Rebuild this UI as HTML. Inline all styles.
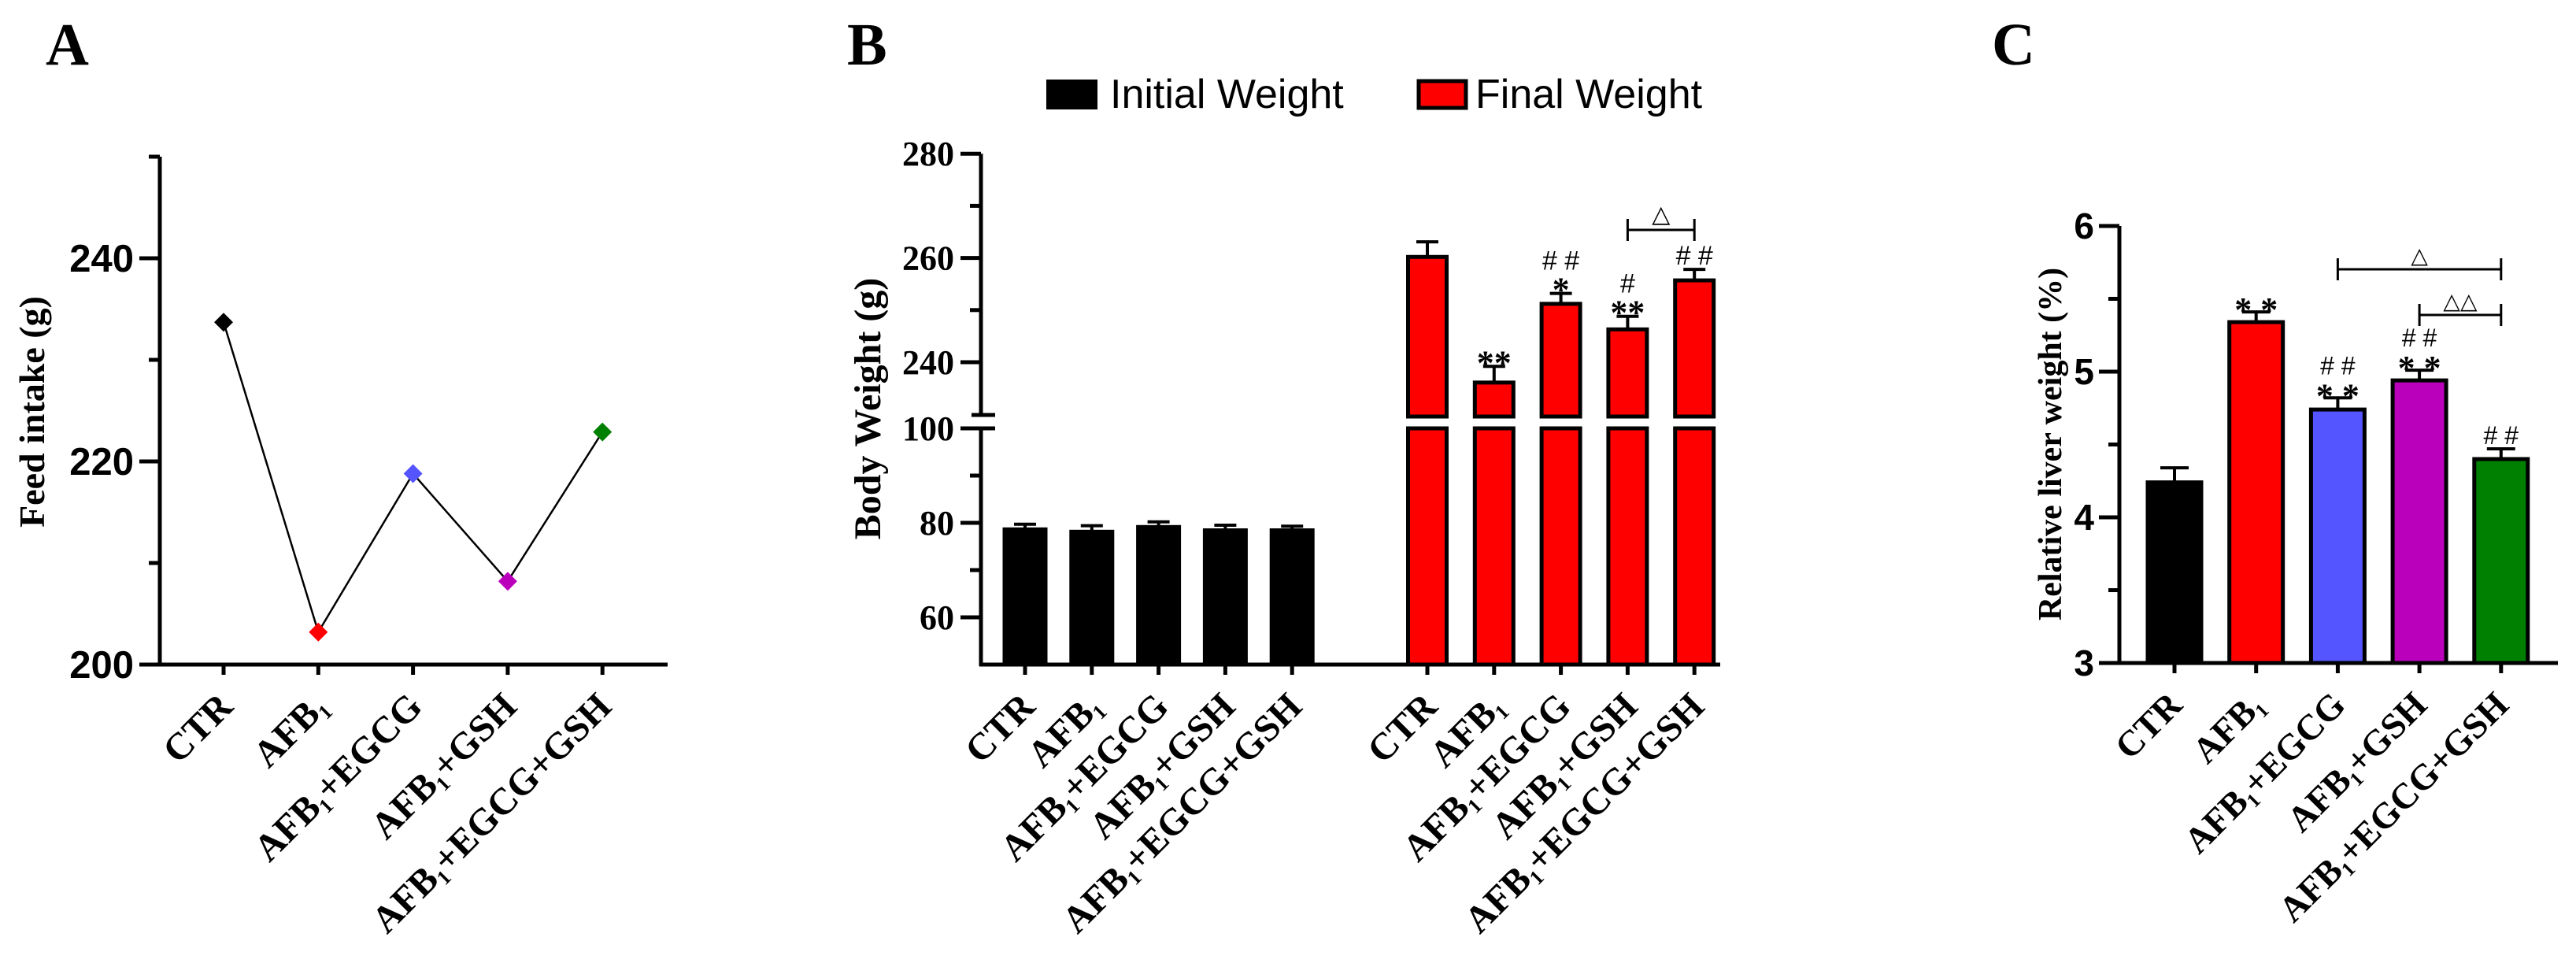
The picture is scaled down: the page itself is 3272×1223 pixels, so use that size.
<!DOCTYPE html>
<html><head><meta charset="utf-8"><style>
html,body{margin:0;padding:0;background:#fff;}
svg{display:block;}
.serif{font-family:"Liberation Serif",serif;font-weight:bold;}
.sans{font-family:"Liberation Sans",sans-serif;}
</style></head>
<body>
<svg id="fig" width="3272" height="1223" viewBox="0 0 3272 1223" xmlns="http://www.w3.org/2000/svg">
<rect width="3272" height="1223" fill="#fff"/>
<text x="58" y="82" class="serif" font-size="76">A</text>
<text x="1076" y="82" class="serif" font-size="76">B</text>
<text x="2530" y="82" class="serif" font-size="76">C</text>
<text transform="translate(56,523) rotate(-90)" text-anchor="middle" class="serif" font-size="46">Feed intake (g)</text>
<text transform="translate(1118,519) rotate(-90)" text-anchor="middle" class="serif" font-size="48">Body Weight (g)</text>
<text transform="translate(2618,564) rotate(-90)" text-anchor="middle" class="serif" font-size="42">Relative liver weight (%)</text>
<g>
<rect x="1329" y="101" width="65" height="38" fill="#000"/>
<text x="1410" y="137" class="sans" font-size="52">Initial Weight</text>
<rect x="1802" y="103" width="60" height="34" fill="#f00" stroke="#000" stroke-width="5"/>
<text x="1874" y="137" class="sans" font-size="52">Final Weight</text>
</g>
<g id="gA"></g><g id="gB"></g><g id="gC"></g>
</svg>
<script>
// ---- data ----
const groups = ["CTR","AFB","AFB+EGCG","AFB+GSH","AFB+EGCG+GSH"];
const feedIntake = [233.7, 203.2, 218.8, 208.2, 222.9];
const feedColors = ["#000","#f00","#5555ff","#bb00bb","#008000"];
const feedTicks = [200, 220, 240];
const feedMinor = [210, 230, 250];
const initialWeight = [78.7, 78.2, 79.2, 78.5, 78.5];
const initialErr = [1.0, 1.2, 1.0, 1.0, 0.8];
const finalWeight = [260.5, 236.4, 251.5, 246.6, 256.0];
const finalErr = [2.6, 2.8, 1.7, 2.2, 1.8];
const bLowerTicks = [60, 80, 100];
const bLowerMinor = [70, 90];
const bUpperTicks = [240, 260, 280];
const bUpperMinor = [250, 270];
const finalMarks = [["",""],["**",""],["*","# #"],["**","#"],["","# #"]];
const liverWeight = [4.24, 5.34, 4.74, 4.94, 4.40];
const liverErr = [0.10, 0.07, 0.08, 0.07, 0.07];
const liverColors = ["#000","#f00","#5555ff","#bb00bb","#008000"];
const liverTicks = [3, 4, 5, 6];
const liverMinor = [3.5, 4.5, 5.5];
const liverMarks = [["",""],["* *",""],["* *","# #"],["* *","# #"],["","# #"]];

const NS = "http://www.w3.org/2000/svg";
function mk(parent, tag, attrs, txt){
  const e = document.createElementNS(NS, tag);
  for (const k in attrs) e.setAttribute(k, attrs[k]);
  if (txt !== undefined) e.textContent = txt;
  parent.appendChild(e); return e;
}
function label(parent, x, y, name, size){
  const t = mk(parent, "text", {transform:`translate(${x},${y}) rotate(-45)`, "text-anchor":"end", "font-size":size, class:"serif"});
  
  
  if (name === "CTR") { t.textContent = "CTR"; return t; }
  mk(t, "tspan", {}, "AFB");
  mk(t, "tspan", {"font-size": size*0.55, dy: 8}, "1");
  const rest = name.slice(3);
  if (rest) mk(t, "tspan", {dy: -8}, rest);
  return t;
}
const AX = "#000";

// ---- Panel A ----
(function(){
  const g = document.getElementById("gA");
  const y = v => 844 - (v - 200) * 12.9;
  const x = i => 284 + i * 120.3;
  const ya = mk(g, "line", {x1:203, y1:y(250), x2:203, y2:846, stroke:AX, "stroke-width":5});
  
  
  const xa = mk(g, "line", {x1:177, y1:844, x2:848, y2:844, stroke:AX, "stroke-width":5});
  
  
  feedTicks.forEach(v => {
    const t = mk(g, "line", {x1:177, y1:y(v), x2:203, y2:y(v), stroke:AX, "stroke-width":5});
    
    
    const l = mk(g, "text", {x:170, y:y(v)+17, "text-anchor":"end", "font-size":49, class:"sans", "font-weight":"bold"}, String(v));
    
    
  });
  feedMinor.forEach(v => {
    const t = mk(g, "line", {x1:189, y1:y(v), x2:203, y2:y(v), stroke:AX, "stroke-width":5});
    
    
  });
  const pts = feedIntake.map((v,i) => x(i)+","+y(v)).join(" ");
  const pl = mk(g, "polyline", {points:pts, fill:"none", stroke:"#000", "stroke-width":2.5});
  
  
  groups.forEach((n,i) => {
    const t = mk(g, "line", {x1:x(i), y1:844, x2:x(i), y2:857, stroke:AX, "stroke-width":5});
    
    
    const cx = x(i), cy = y(feedIntake[i]), r = 12;
    const d = mk(g, "polygon", {points:`${cx},${cy-r} ${cx+r},${cy} ${cx},${cy+r} ${cx-r},${cy}`, fill:feedColors[i]});
    
    
    label(g, x(i)+14, 900, n, 48);
  });
})();

// ---- Panel B ----
(function(){
  const g = document.getElementById("gB");
  const yL = v => 844 - (v - 50) * 6.0;
  const yU = v => 460 - (v - 240) * 6.62;
  const breakLow = yL(100), breakHigh = 527;
  const xI = i => 1302 + i * 84.8;
  const xF = i => 1813 + i * 84.8;
  const bw = 53;
  const a1 = mk(g, "line", {x1:1246, y1:breakLow, x2:1246, y2:846, stroke:AX, "stroke-width":5});
  
  
  const a2 = mk(g, "line", {x1:1246, y1:yU(280), x2:1246, y2:breakHigh, stroke:AX, "stroke-width":5});
  
  
  [breakLow, breakHigh].forEach(yy => {
    const b = mk(g, "line", {x1:1234, y1:yy, x2:1264, y2:yy, stroke:AX, "stroke-width":5});
    
    
  });
  const xa = mk(g, "line", {x1:1244, y1:844, x2:2185, y2:844, stroke:AX, "stroke-width":5});
  
  
  bLowerTicks.forEach(v => {
    const t = mk(g, "line", {x1:1220, y1:yL(v), x2:1246, y2:yL(v), stroke:AX, "stroke-width":5});
    
    
    const l = mk(g, "text", {x:1212, y:yL(v)+15, "text-anchor":"end", "font-size":44, class:"serif"}, String(v));
    
    
  });
  bUpperTicks.forEach(v => {
    const t = mk(g, "line", {x1:1220, y1:yU(v), x2:1246, y2:yU(v), stroke:AX, "stroke-width":5});
    
    
    const l = mk(g, "text", {x:1212, y:yU(v)+15, "text-anchor":"end", "font-size":44, class:"serif"}, String(v));
    
    
  });
  bLowerMinor.forEach(v => {
    const t = mk(g, "line", {x1:1232, y1:yL(v), x2:1246, y2:yL(v), stroke:AX, "stroke-width":5});
    
    
  });
  bUpperMinor.forEach(v => {
    const t = mk(g, "line", {x1:1232, y1:yU(v), x2:1246, y2:yU(v), stroke:AX, "stroke-width":5});
    
    
  });
  groups.forEach((n,i) => {
    const cx = xI(i), top = yL(initialWeight[i]);
    const eb = mk(g, "path", {d:`M${cx},${top} V${yL(initialWeight[i]+initialErr[i])} M${cx-14},${yL(initialWeight[i]+initialErr[i])} H${cx+14}`, stroke:"#000", "stroke-width":4, fill:"none"});
    
    
    const r = mk(g, "rect", {x:cx-bw/2, y:top, width:bw, height:844-top, fill:"#000", stroke:"#000", "stroke-width":4});
    
    
    const t = mk(g, "line", {x1:cx, y1:844, x2:cx, y2:857, stroke:AX, "stroke-width":5});
    
    
    label(g, cx+15, 900, n, 48);
  });
  groups.forEach((n,i) => {
    const cx = xF(i), top = yU(finalWeight[i]), et = yU(finalWeight[i]+finalErr[i]);
    const eb = mk(g, "path", {d:`M${cx},${top} V${et} M${cx-14},${et} H${cx+14}`, stroke:"#000", "stroke-width":4, fill:"none"});
    
    
    const r1 = mk(g, "rect", {x:cx-bw/2+2, y:top+2, width:bw-4, height:breakHigh-top, fill:"#f00", stroke:"#000", "stroke-width":5});
    
    
    const r2 = mk(g, "rect", {x:cx-bw/2+2, y:breakLow, width:bw-4, height:844-breakLow, fill:"#f00", stroke:"#000", "stroke-width":5});
    
    
    const t = mk(g, "line", {x1:cx, y1:844, x2:cx, y2:857, stroke:AX, "stroke-width":5});
    
    
    label(g, cx+15, 900, n, 48);
    const [star, hash] = finalMarks[i];
    if (star) {
      const s = mk(g, "text", {x:cx, y:et+10, "text-anchor":"middle", "font-size":44, class:"serif"}, star);
      
      
    }
    if (hash) {
      const hy = et - (star ? 30 : 6);
      const h = mk(g, "text", {x:cx, y:hy, "text-anchor":"middle", "font-size":34, "font-family":"Liberation Sans, sans-serif"}, hash);
      
      
    }
  });
  const br = mk(g, "path", {d:`M${xF(3)},278 V306 M${xF(3)},292 H${xF(4)} M${xF(4)},278 V306`, stroke:"#000", "stroke-width":3, fill:"none"});
  
  
  const tr = mk(g, "text", {x:(xF(3)+xF(4))/2, y:282, "text-anchor":"middle", "font-size":30, class:"sans"}, "\u25B3");
  
  
})();

// ---- Panel C ----
(function(){
  const g = document.getElementById("gC");
  const y = v => 842 - (v - 3) * 185;
  const x = i => 2762 + i * 103.7;
  const bw = 68;
  const ya = mk(g, "line", {x1:2692, y1:y(6), x2:2692, y2:844, stroke:AX, "stroke-width":5});
  
  
  const xa = mk(g, "line", {x1:2666, y1:842, x2:3249, y2:842, stroke:AX, "stroke-width":5});
  
  
  liverTicks.forEach(v => {
    const t = mk(g, "line", {x1:2666, y1:y(v), x2:2692, y2:y(v), stroke:AX, "stroke-width":5});
    
    
    const l = mk(g, "text", {x:2660, y:y(v)+16, "text-anchor":"end", "font-size":46, class:"sans", "font-weight":"bold"}, String(v));
    
    
  });
  liverMinor.forEach(v => {
    const t = mk(g, "line", {x1:2678, y1:y(v), x2:2692, y2:y(v), stroke:AX, "stroke-width":5});
    
    
  });
  groups.forEach((n,i) => {
    const cx = x(i), top = y(liverWeight[i]), et = y(liverWeight[i]+liverErr[i]);
    const eb = mk(g, "path", {d:`M${cx},${top} V${et} M${cx-18},${et} H${cx+18}`, stroke:"#000", "stroke-width":4, fill:"none"});
    
    
    const r = mk(g, "rect", {x:cx-bw/2, y:top, width:bw, height:842-top, fill:liverColors[i], stroke:"#000", "stroke-width":5});
    
    
    const t = mk(g, "line", {x1:cx, y1:842, x2:cx, y2:855, stroke:AX, "stroke-width":5});
    
    
    label(g, cx+12, 898, n, 46);
    const [star, hash] = liverMarks[i];
    if (star) {
      const s = mk(g, "text", {x:cx, y:et+12, "text-anchor":"middle", "font-size":44, class:"serif"}, star);
      
      
    }
    if (hash) {
      const h = mk(g, "text", {x:cx, y:et-(star?30:6), "text-anchor":"middle", "font-size":32, "font-family":"Liberation Sans, sans-serif"}, hash);
      
      
    }
  });
  const b1 = mk(g, "path", {d:`M${x(2)},328 V356 M${x(2)},342 H${x(4)} M${x(4)},328 V356`, stroke:"#000", "stroke-width":3, fill:"none"});
  
  
  const t1 = mk(g, "text", {x:(x(2)+x(4))/2, y:334, "text-anchor":"middle", "font-size":28, class:"sans"}, "\u25B3");
  
  
  const b2 = mk(g, "path", {d:`M${x(3)},386 V414 M${x(3)},400 H${x(4)} M${x(4)},386 V414`, stroke:"#000", "stroke-width":3, fill:"none"});
  
  
  const t2 = mk(g, "text", {x:(x(3)+x(4))/2, y:392, "text-anchor":"middle", "font-size":28, class:"sans"}, "\u25B3\u25B3");
  
  
})();
</script>
</body></html>
